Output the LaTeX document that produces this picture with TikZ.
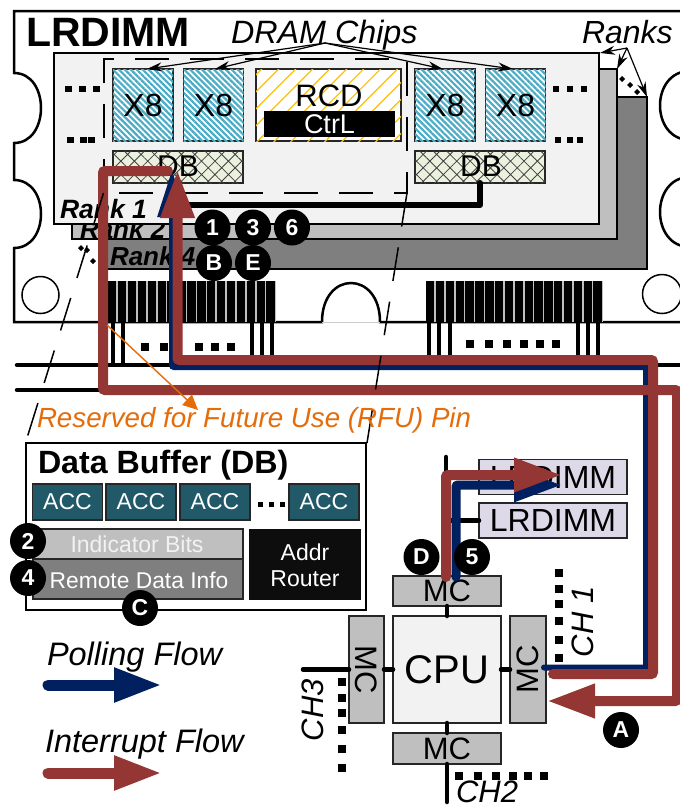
\documentclass[tikz,border=0pt]{standalone}
\usepackage{fontspec}
\setmainfont{Liberation Sans}
\usetikzlibrary{arrows.meta,patterns.meta}
\newcommand{\fsz}[1]{\fontsize{#1}{#1}\selectfont}
\definecolor{brownflow}{HTML}{943634}
\definecolor{blueflow}{HTML}{002060}
\definecolor{orangeflow}{HTML}{E46C0A}
\definecolor{chipblue}{HTML}{4BACC6}
\definecolor{rcdyel}{HTML}{FFC000}
\definecolor{dbfill}{HTML}{EBF1DE}
\definecolor{teal1}{HTML}{215968}
\definecolor{lilac}{HTML}{DDD9E8}
\definecolor{rank1c}{HTML}{F2F2F2}
\definecolor{rank2c}{HTML}{BFBFBF}
\definecolor{rank4c}{HTML}{7F7F7F}
\tikzset{
  every node/.style={inner sep=0pt,outer sep=0pt},
  labeltext/.style={anchor=base west},
  boxbase/.style={draw=black!85,line width=1.2pt,align=center},
  x8chip/.style={boxbase,minimum width=60pt,minimum height=72pt,font=\fsz{32},
    preaction={fill=white},
    postaction={pattern={Lines[angle=-45,distance=4.2pt,line width=2.2pt]},pattern color=chipblue}},
  dbchip/.style={boxbase,minimum width=130pt,minimum height=32pt,
    preaction={fill=dbfill},
    postaction={pattern={Hatch[angle=45,distance=9.5pt,line width=0.8pt]},pattern color=black!75}},
  acc/.style={boxbase,fill=teal1,text=white,font=\fsz{23},minimum width=70pt,minimum height=36pt},
  mcbox/.style={boxbase,fill=rank2c,font=\fsz{31}},
  lrbox/.style={boxbase,fill=lilac,font=\fsz{32},minimum width=148pt,minimum height=35pt},
  badge/.style={circle,fill=black,text=white,font=\bfseries\fsz{23},minimum size=36pt},
  pin/.style={fill=black},
  sq/.style={fill=black},
  bus/.style={line width=4.5pt,line cap=round,draw=black},
  longdash/.style={line width=1.5pt,dash pattern=on 34pt off 21pt},
  thinarrow/.style={line width=1.2pt,-{Stealth[length=15pt,width=9pt]}},
  ibrown/.style={draw=brownflow,line width=10pt,rounded corners=2pt,line cap=round,
    -{Triangle[length=48pt,width=32pt]}},
  pblue/.style={draw=blueflow,line width=6pt,rounded corners=2pt,line cap=round,
    -{Triangle[length=47pt,width=28pt]}},
  orangearrow/.style={draw=orangeflow,line width=1.4pt,-{Triangle[length=15pt,width=14pt]}}
}
\begin{document}
\begin{tikzpicture}[x=1pt,y=-1pt]
\useasboundingbox (0,0) rectangle (680,806);
\clip (0,0) rectangle (680,806);
\fill[white] (0,0) rectangle (680,806);
% DIMM outline
\draw[line width=2.5pt] (690,11) -- (14,11) -- (14,73)
  .. controls (50,73) and (50,143) .. (14,143) -- (14,180)
  .. controls (50,180) and (50,248) .. (14,248) -- (14,322) -- (322,322)
  .. controls (322,270) and (380,270) .. (380,322) -- (690,322);
\draw[black!20,line width=0.8pt] (322,322) -- (380,322);
\draw[line width=2.5pt] (690,71) .. controls (650,71) and (650,140) .. (690,140);
\draw[line width=2.5pt] (690,177) .. controls (650,177) and (650,247) .. (690,247);
\node[circle,draw,line width=1.5pt,minimum size=37pt] (holeL) at (40.5,295) {};
\node[circle,draw,line width=1.5pt,minimum size=39pt] (holeR) at (662,294) {};
% Ranks
\draw[fill=rank4c,line width=1.8pt] (104,97) rectangle (647,269);
\node[labeltext,font=\bfseries\itshape\fsz{26}] (rankfour) at (110,265) {Rank 4};
\draw[fill=rank2c,line width=1.8pt] (72,69) rectangle (617,239);
\node[labeltext,font=\bfseries\itshape\fsz{26}] (ranktwo) at (80,238) {Rank 2};
\draw[fill=rank1c,line width=1.8pt] (54,53) rectangle (599,224);
\node[labeltext,font=\bfseries\itshape\fsz{26.5}] (rankone) at (60,218) {Rank 1};
\draw[longdash] (104,193) -- (104,59) -- (407,59) -- (407,193) -- cycle;
% Chips
\node[x8chip] (c1) at (143,105) {X8};
\node[x8chip] (c2) at (213.5,105) {X8};
\node[x8chip] (c3) at (445,105) {X8};
\node[x8chip] (c4) at (515.5,105) {X8};
\node[boxbase,minimum width=145pt,minimum height=72pt,preaction={fill=white},
  postaction={pattern={Lines[angle=45,distance=12pt,line width=1.2pt]},pattern color=rcdyel}] (rcd) at (328.5,105) {};
\node[font=\fsz{31}] (rcdtext) at (329,96) {RCD};
\node[fill=black,text=white,font=\fsz{27},minimum width=131pt,minimum height=26pt] (ctrl) at (329.5,124) {CtrL};
\node[dbchip] (db1) at (178,167) {};
\node[dbchip] (db2) at (480,167) {};
\node[font=\fsz{30}] (db1t) at (178,166) {DB};
\node[font=\fsz{30}] (db2t) at (481,166) {DB};
\draw[line width=6pt,line cap=round,line join=round] (db2.south) -- ++(0,22) -| (db1.south);
% dots around chips
\foreach \x in {65,79,93} \fill[sq] (\x,86) rectangle ++(7,6);
\foreach \x in {67,80,88} \fill[sq] (\x,137) rectangle ++(7,6);
\foreach \x in {553,567,581} \fill[sq] (\x,86) rectangle ++(6,6);
\foreach \x in {555,567,577} \fill[sq] (\x,137) rectangle ++(6,6);
% titles
\node[labeltext,font=\bfseries\fsz{41}] (title) at (26,46) {LRDIMM};
\node[labeltext,font=\itshape\fsz{32.3}] (dram) at (231,43) {DRAM Chips};
\node[labeltext,font=\itshape\fsz{32}] (ranks) at (582,43) {Ranks};
\coordinate (dramapex) at (325,43);
\coordinate (ranksapex) at (627,48);
\draw[thinarrow] (dramapex) -- (147,69);
\draw[thinarrow] (dramapex) -- (215,69);
\draw[thinarrow] (dramapex) -- (443,69);
\draw[thinarrow] (dramapex) -- (513,69);
\draw[thinarrow] (ranksapex) -- (600,53);
\draw[thinarrow] (ranksapex) -- (617,69);
\draw[thinarrow] (ranksapex) -- (647,97);
\foreach \p in {(622,79),(630,85),(637,92),(81,248),(87,250),(93,261)}
  \fill[sq] \p +(-3,0) -- +(0,-3) -- +(3,0) -- +(0,3) -- cycle;
% pins
\fill[rank2c] (108,281) rectangle (276,322);
\fill[rank2c] (426,281) rectangle (603,322);
\foreach \i in {0,...,16} \fill[pin] ({108+\i*9.9},281) rectangle ++(8.4,41);
\foreach \i in {0,...,17} \fill[pin] ({426+\i*9.85},281) rectangle ++(8.4,41);
% bus wires
\draw[bus] (17,365) -- (690,365);
\draw[bus] (17,390) -- (690,390);
\foreach \x in {113,123} \draw[line width=4pt] (\x,322) -- (\x,365);
\foreach \x in {252,262,272,429,439,450,578,588,598} \draw[line width=4pt] (\x,322) -- (\x,362);
\foreach \x in {141,160,195,211,227} \fill[sq] (\x,343) rectangle ++(8,8);
\foreach \x in {466,485,503,520,536,552} \fill[sq] (\x,340) rectangle ++(8,8);
% Data buffer
\draw[line width=1.3pt,fill=white] (26,443) rectangle (366,610);
\node[labeltext,font=\bfseries\fsz{32.2}] (dbtitle) at (38,473) {Data Buffer (DB)};
\node[acc] (a1) at (67.5,502) {ACC};
\node[acc] (a2) at (141,502) {ACC};
\node[acc] (a3) at (215,502) {ACC};
\node[acc] (a4) at (324,502) {ACC};
\foreach \x in {258,269,280} \fill[sq] (\x,502) rectangle ++(5,5);
\node[boxbase,fill=rank2c,minimum width=210pt,minimum height=30pt] (ind) at (138,544) {};
\node[text=rank1c,font=\fsz{23}] (indt) at (137,544) {Indicator Bits};
\node[boxbase,fill=rank4c,minimum width=210pt,minimum height=40pt] (rem) at (138,579) {};
\node[text=white,font=\fsz{22.8}] (remt) at (139,580) {Remote Data Info};
\node[fill=black!95,text=white,font=\fsz{23},minimum width=112pt,minimum height=71pt,align=center] (addr) at (305,564.5) {};
\node[text=white,font=\fsz{23}] (addr1) at (305,552) {Addr};
\node[text=white,font=\fsz{23}] (addr2) at (305,579) {Router};
% CPU
\node[boxbase,fill=rank1c,font=\fsz{40},minimum width=108pt,minimum height=107pt] (cpu) at (447,669.5) {CPU};
\node[mcbox,minimum width=108pt,minimum height=30pt] (mcT) at (447,591) {MC};
\node[mcbox,minimum width=108pt,minimum height=31pt] (mcB) at (447,748.5) {MC};
\node[mcbox,minimum width=35pt,minimum height=107pt] (mcL) at (366.5,669.5) {};
\node[mcbox,minimum width=36pt,minimum height=107pt] (mcR) at (528,669.5) {};
\node[rotate=-90,font=\fsz{31}] (mcLt) at (366.5,669.5) {MC};
\node[rotate=90,font=\fsz{31}] (mcRt) at (528,669.5) {MC};
\coordinate (ch3end) at (303,669.5);
\coordinate (ch2end) at (447,802);
\coordinate (chtop) at (446,457);
\draw[bus] (cpu.north) -- (mcT.south);
\draw[bus] (cpu.south) -- (mcB.north);
\draw[bus] (cpu.west) -- (mcL.east);
\draw[bus] (cpu.east) -- (mcR.west);
\draw[bus] (mcL.west) -- (ch3end);
\draw[bus] (mcB.south) -- (ch2end);
\node[lrbox] (lr1) at (553,477) {LRDIMM};
\node[lrbox] (lr2) at (553,520.5) {LRDIMM};
\draw[bus] (chtop) -- (446,577);
\draw[bus] (446,520.5) -- (lr2.west);
\foreach \y in {569,585,600,617,636,654} \fill[sq] (555,\y) rectangle ++(8,8);
\foreach \y in {678,694,709,726,745,764} \fill[sq] (338,\y) rectangle ++(8,8);
\foreach \x in {455,474,492,509,524,540} \fill[sq] (\x,772) rectangle ++(8,8);
\node[rotate=90,font=\itshape\fsz{31}] (ch1) at (583,622) {CH 1};
\node[rotate=90,font=\itshape\fsz{31}] (ch3) at (313,710) {CH3};
\node[labeltext,font=\itshape\fsz{31}] (ch2) at (456,802) {CH2};
% flows
\coordinate (bA) at (544,667.5);
\coordinate (bB) at (646,667.5);
\coordinate (bC) at (646,367);
\coordinate (bD) at (172,367);
\coordinate (bE) at (172,170);
\draw[pblue] (bA) -- (bB) -- (bC) -- (bD) -- (bE);
\coordinate (tB) at (456,577);
\coordinate (tC) at (456,485);
\coordinate (tD) at (562,485);
\draw[pblue,line width=9pt,-{Triangle[length=48pt,width=32pt]}] (tB) -- (tC) -- (tD);
\draw[ibrown] (553,674) -- (653,674) -- (653,360) -- (177.5,360) -- (177.5,170);
\draw[ibrown] (168,171) -- (103,171) -- (103,390) -- (677,390) -- (677,701) -- (547,701);
\draw[ibrown] (446,577) -- (446,475) -- (562,475);
% detail dashes
\draw[longdash] (103.5,193) -- (27,438);
\draw[longdash] (407,193) -- (367,443);
% orange
\coordinate (rfupin) at (107,325);
\coordinate (rfulabel) at (198,410);
\draw[orangearrow] (rfupin) -- (rfulabel);
\node[labeltext,text=orangeflow,font=\itshape\fsz{27.7}] (rfu) at (37,427) {Reserved for Future Use (RFU) Pin};
% badges
\node[badge] (n1) at (212.5,227.5) {1};
\node[badge] (n3) at (253,227.5) {3};
\node[badge] (n6) at (292,227.5) {6};
\node[badge] (nB) at (214,263) {B};
\node[badge] (nE) at (253,263) {E};
\node[badge] (n2) at (28,541) {2};
\node[badge] (n4) at (28,578) {4};
\node[badge] (nC) at (140,608) {C};
\node[badge] (nD) at (421.5,557) {D};
\node[badge] (n5) at (472,557) {5};
\node[badge] (nA) at (621,730) {A};
% legend
\node[labeltext,font=\itshape\fsz{32.5}] (poll) at (47,665) {Polling Flow};
\node[labeltext,font=\itshape\fsz{32.5}] (intr) at (45,752) {Interrupt Flow};
\coordinate (pl1) at (48,685);
\coordinate (pl2) at (162,685);
\coordinate (il1) at (48,773);
\coordinate (il2) at (162,773);
\draw[draw=blueflow,line width=11pt,line cap=round,-{Triangle[length=48pt,width=32pt]}] (pl1) -- (pl2);
\draw[draw=brownflow,line width=11pt,line cap=round,-{Triangle[length=48pt,width=32pt]}] (il1) -- (il2);
\end{tikzpicture}
\end{document}
